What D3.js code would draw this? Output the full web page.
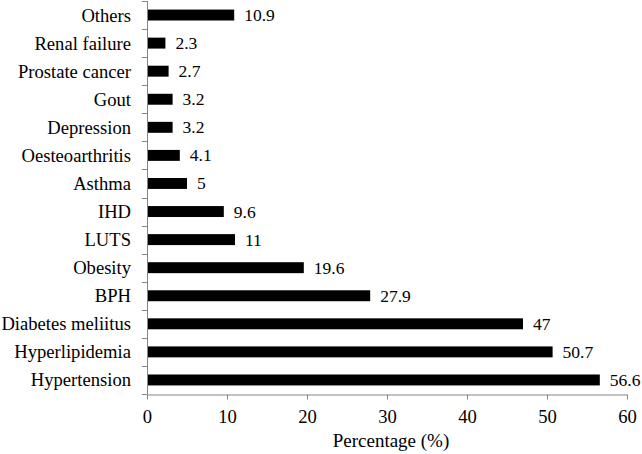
<!DOCTYPE html>
<html>
<head>
<meta charset="utf-8">
<script src="https://cdn.jsdelivr.net/npm/d3@7"></script>
</head>
<body style="margin:0">
<svg id="chart" width="642" height="454" font-family="Liberation Serif"></svg>
<script>
// Data (top to bottom as shown)
const categories = ["Others", "Renal failure", "Prostate cancer", "Gout", "Depression",
  "Oesteoarthritis", "Asthma", "IHD", "LUTS", "Obesity", "BPH",
  "Diabetes meliitus", "Hyperlipidemia", "Hypertension"];
const values = [10.9, 2.3, 2.7, 3.2, 3.2, 4.1, 5, 9.6, 11, 19.6, 27.9, 47, 50.7, 56.6];
const valueLabels = ["10.9", "2.3", "2.7", "3.2", "3.2", "4.1", "5", "9.6", "11", "19.6", "27.9", "47", "50.7", "56.6"];
const xTicks = [0, 10, 20, 30, 40, 50, 60];
const xTitle = "Percentage (%)";

const FONT = "Liberation Serif";
const svg = d3.select("#chart");
const mLeft = 147, mRight = 627, mTop = 1, mBottom = 394;

const x = d3.scaleLinear().domain([0, 60]).range([mLeft, mRight]);
const y = d3.scaleBand().domain(categories).range([mTop, mBottom]).paddingInner(0.61).paddingOuter(0.305);

// bars
categories.forEach((c, i) => {
  svg.append("rect")
    .attr("x", x(0))
    .attr("y", y(c))
    .attr("width", x(values[i]) - x(0))
    .attr("height", y.bandwidth())
    .attr("fill", "#000");
});

// value labels
categories.forEach((c, i) => {
  svg.append("text")
    .attr("x", x(values[i]) + 10)
    .attr("y", y(c) + y.bandwidth() / 2 + 6)
    .attr("font-family", FONT)
    .attr("font-size", 17.5)
    .text(valueLabels[i]);
});

// y axis
const axisColor = "#868686";
svg.append("line")
  .attr("x1", mLeft + 0.5).attr("x2", mLeft + 0.5)
  .attr("y1", mTop).attr("y2", mBottom)
  .attr("stroke", axisColor);
d3.range(categories.length + 1).forEach(i => {
  const yy = Math.round(mTop + i * y.step()) + 0.5;
  svg.append("line")
    .attr("x1", mLeft - 5).attr("x2", mLeft + 0.5)
    .attr("y1", yy).attr("y2", yy)
    .attr("stroke", axisColor);
});
categories.forEach(c => {
  svg.append("text")
    .attr("x", mLeft - 16)
    .attr("y", y(c) + y.bandwidth() / 2 + 6.5)
    .attr("text-anchor", "end")
    .attr("font-family", FONT)
    .attr("font-size", 18.6)
    .text(c);
});

// x axis (scale-driven)
const xAxis = svg.append("g").attr("transform", `translate(0,${mBottom + 0.5})`)
  .call(d3.axisBottom(x).tickValues(xTicks).tickSize(5).tickSizeOuter(0).tickPadding(10));
xAxis.attr("font-family", FONT).attr("font-size", 18.6);
xAxis.select(".domain").attr("stroke", axisColor);
xAxis.selectAll(".tick line").attr("stroke", axisColor);
xAxis.selectAll(".tick text").attr("font-family", FONT).attr("font-size", 18.6).attr("fill", "#000");

// x title
svg.append("text")
  .attr("x", 391)
  .attr("y", 447)
  .attr("text-anchor", "middle")
  .attr("font-family", FONT)
  .attr("font-size", 19)
  .text(xTitle);
</script>
</body>
</html>
